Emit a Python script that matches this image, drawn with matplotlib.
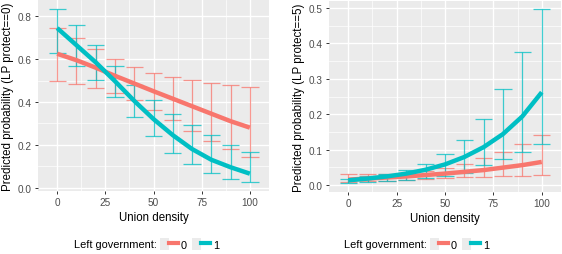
import numpy as np
import matplotlib.pyplot as plt
from matplotlib.lines import Line2D
from matplotlib.patches import Rectangle
from matplotlib.legend_handler import HandlerTuple

plt.rcParams['font.family'] = ['Liberation Sans', 'DejaVu Sans']

union = [0, 10, 20, 30, 40, 50, 60, 70, 80, 90, 100]

# LP protect == 0
p0_lg0 = [0.625, 0.595, 0.56, 0.522, 0.486, 0.45, 0.415, 0.38, 0.345, 0.31, 0.28]
p0_lg0_lo = [0.497, 0.486, 0.467, 0.442, 0.408, 0.361, 0.314, 0.265, 0.218, 0.179, 0.142]
p0_lg0_hi = [0.747, 0.70, 0.649, 0.602, 0.563, 0.535, 0.517, 0.504, 0.489, 0.481, 0.470]
p0_lg1 = [0.745, 0.665, 0.585, 0.497, 0.405, 0.32, 0.245, 0.18, 0.13, 0.095, 0.065]
p0_lg1_lo = [0.630, 0.568, 0.501, 0.422, 0.331, 0.240, 0.163, 0.109, 0.070, 0.042, 0.025]
p0_lg1_hi = [0.836, 0.758, 0.665, 0.568, 0.481, 0.408, 0.342, 0.291, 0.244, 0.198, 0.167]

# LP protect == 5
p5_lg0 = [0.015, 0.018, 0.021, 0.024, 0.028, 0.032, 0.037, 0.042, 0.049, 0.056, 0.065]
p5_lg0_lo = [0.007, 0.010, 0.012, 0.015, 0.017, 0.020, 0.022, 0.023, 0.025, 0.026, 0.028]
p5_lg0_hi = [0.030, 0.030, 0.032, 0.035, 0.040, 0.048, 0.059, 0.075, 0.092, 0.115, 0.142]
p5_lg1 = [0.013, 0.018, 0.024, 0.032, 0.043, 0.058, 0.079, 0.107, 0.144, 0.194, 0.262]
p5_lg1_lo = [0.005, 0.008, 0.011, 0.015, 0.020, 0.025, 0.035, 0.057, 0.074, 0.092, 0.115]
p5_lg1_hi = [0.018, 0.025, 0.032, 0.042, 0.058, 0.087, 0.127, 0.187, 0.271, 0.377, 0.497]

RED = '#F8766D'
CYAN = '#00BFC4'
W, H = 562, 255


def panel(rect, yticks, ylim, ylabel, series):
    ax = fig.add_axes([rect[0] / W, 1 - rect[3] / H, (rect[2] - rect[0]) / W, (rect[3] - rect[1]) / H])
    ax.set_facecolor('#EBEBEB')
    for s in ax.spines.values():
        s.set_visible(False)
    for y, lo, hi, c in series:
        x = np.array(union)
        ax.vlines(x, lo, hi, color=c, lw=0.9, alpha=0.75, zorder=3)
        ax.hlines(lo, x - 4.5, x + 4.5, color=c, lw=0.9, alpha=0.75, zorder=3)
        ax.hlines(hi, x - 4.5, x + 4.5, color=c, lw=0.9, alpha=0.75, zorder=3)
        ax.plot(x, y, color=c, lw=3.2, solid_capstyle='butt', zorder=4)
    ax.set_xlim(-9.95, 109.95)
    ax.set_ylim(*ylim)
    ax.set_xticks([0, 25, 50, 75, 100])
    ax.set_xticks([12.5, 37.5, 62.5, 87.5], minor=True)
    ax.set_yticks(yticks)
    ax.set_yticks([(a + b) / 2 for a, b in zip(yticks[:-1], yticks[1:])], minor=True)
    ax.grid(which='major', color='white', lw=1.0)
    ax.grid(which='minor', color='white', lw=0.5)
    ax.set_axisbelow(True)
    ax.tick_params(which='major', length=2.5, width=0.7, color='#333333', labelsize=7.2,
                   labelcolor='#4D4D4D', pad=2)
    ax.tick_params(which='minor', length=0)
    ax.set_xlabel('Union density', fontsize=8.3, labelpad=3)
    ax.set_ylabel(ylabel, fontsize=8.3, labelpad=3)
    return ax


fig = plt.figure(figsize=(W / 100, H / 100), dpi=100)

panel((38, 1, 269, 192), [0.0, 0.2, 0.4, 0.6, 0.8], (-0.016, 0.876),
      'Predicted probability (LP protect==0)',
      [(p0_lg0, p0_lg0_lo, p0_lg0_hi, RED), (p0_lg1, p0_lg1_lo, p0_lg1_hi, CYAN)])
panel((329, 2, 561, 193), [0.0, 0.1, 0.2, 0.3, 0.4, 0.5], (-0.02, 0.52),
      'Predicted probability (LP protect==5)',
      [(p5_lg0, p5_lg0_lo, p5_lg0_hi, RED), (p5_lg1, p5_lg1_lo, p5_lg1_hi, CYAN)])

# legends under each panel
for x_key in (160, 430):
    fig.text((x_key - 3) / W, 1 - 245 / H, 'Left government:', fontsize=7.9,
             va='center', ha='right')
    handles = []
    for c in (RED, CYAN):
        bg = Rectangle((0, 0), 1, 1, facecolor='#EBEBEB', edgecolor='none')
        ln = Line2D([0], [0], color=c, lw=3)
        handles.append((bg, ln))
    fig.legend(handles, ['0', '1'], handler_map={tuple: HandlerTuple(ndivide=None, pad=0)},
               loc='center left', bbox_to_anchor=(x_key / W, 1 - 245 / H), ncol=2,
               frameon=False, fontsize=7.9, handlelength=1.6, handleheight=1.2,
               handletextpad=0.3, columnspacing=0.5, borderpad=0, borderaxespad=0)

fig.savefig('out.png', dpi=100)
